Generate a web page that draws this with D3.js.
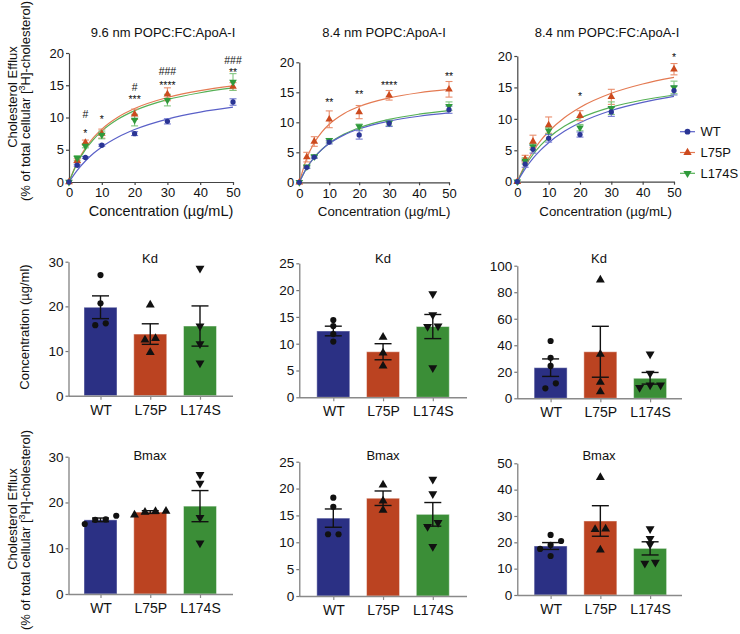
<!DOCTYPE html>
<html><head><meta charset="utf-8">
<script src="https://cdn.jsdelivr.net/npm/d3@7"></script>
<style>
body{margin:0;background:#fff}
svg text{font-family:"Liberation Sans",Arial,sans-serif;fill:#111}
</style>
</head><body>
<svg id="c" width="740" height="634"></svg>
<script>
// ---------------- DATA ----------------
const groups = ["WT", "L75P", "L174S"];
const conc = [0, 2.5, 5, 10, 20, 30, 50];
const concTicks = [0, 10, 20, 30, 40, 50];
const effluxTicks = [0, 5, 10, 15, 20];
const fitConc = [0, 2.5, 5, 7.5, 10, 15, 20, 30, 40, 50];

const curveTitles = ["9.6 nm POPC:FC:ApoA-I", "8.4 nm POPC:ApoA-I", "8.4 nm POPC:FC:ApoA-I"];

// Panel A: 9.6 nm POPC:FC:ApoA-I
const effA_WT    = [0, 2.6, 3.8, 5.7, 7.5, 9.4, 12.4];
const effA_L75P  = [0, 3.3, 6.1, 7.5, 10.5, 13.6, 14.8];
const effA_L174S = [0, 3.7, 5.6, 7.3, 9.6, 12.7, 15.5];
const semA_WT    = [0, 0.15, 0.15, 0.15, 0.3, 0.4, 0.5];
const semA_L75P  = [0, 0.3, 0.4, 0.7, 0.8, 1.0, 0.6];
const semA_L174S = [0, 0.4, 0.3, 0.6, 0.9, 0.9, 1.3];
const fitA_WT    = [0, 1.82, 3.26, 4.45, 5.44, 6.98, 8.14, 9.76, 10.84, 11.6];
const fitA_L75P  = [0, 3.06, 5.25, 6.91, 8.2, 10.09, 11.4, 13.1, 14.17, 14.9];
const fitA_L174S = [0, 2.9, 5.01, 6.62, 7.89, 9.75, 11.06, 12.77, 13.84, 14.58];
const sigA_conc  = [5, 5, 10, 20, 20, 30, 30, 50, 50];
const sigA_level = [7.0, 9.85, 9.15, 12.2, 14.1, 14.4, 16.6, 16.4, 18.25];
const sigA_text  = ["*", "#", "*", "***", "#", "****", "###", "**", "###"];

// Panel B: 8.4 nm POPC:ApoA-I
const effB_WT    = [0, 2.5, 4.2, 6.7, 7.9, 9.8, 12.1];
const effB_L75P  = [0, 4.2, 6.8, 10.5, 11.7, 14.5, 15.5];
const effB_L174S = [0, 2.6, 4.3, 7.0, 9.3, 9.9, 12.7];
const semB_WT    = [0, 0.2, 0.2, 0.3, 0.7, 0.5, 0.6];
const semB_L75P  = [0, 0.8, 0.8, 1.4, 1.1, 0.8, 1.3];
const semB_L174S = [0, 0.2, 0.2, 0.3, 0.4, 0.5, 0.7];
const fitB_WT    = [0, 2.43, 4.16, 5.45, 6.46, 7.91, 8.92, 10.21, 11.01, 11.56];
const fitB_L75P  = [0, 4.03, 6.59, 8.37, 9.68, 11.47, 12.64, 14.07, 14.92, 15.48];
const fitB_L174S = [0, 2.40, 4.15, 5.47, 6.51, 8.03, 9.10, 10.49, 11.35, 11.95];
const sigB_conc  = [10, 20, 30, 50];
const sigB_level = [12.7, 14.1, 15.5, 17.0];
const sigB_text  = ["**", "**", "****", "**"];

// Panel C: 8.4 nm POPC:FC:ApoA-I
const effC_WT    = [0, 2.8, 5.15, 6.9, 7.5, 11.1, 14.5];
const effC_L75P  = [0, 3.6, 6.4, 9.0, 10.5, 13.5, 17.9];
const effC_L174S = [0, 3.3, 5.6, 8.1, 8.6, 11.7, 15.0];
const semC_WT    = [0, 0.5, 0.6, 0.6, 0.4, 0.7, 0.7];
const semC_L75P  = [0, 0.6, 1.0, 1.3, 0.8, 1.2, 0.9];
const semC_L174S = [0, 0.5, 0.5, 0.5, 0.5, 1.0, 1.0];
const fitC_WT    = [0, 2.04, 3.70, 5.06, 6.21, 8.02, 9.39, 11.33, 12.63, 13.57];
const fitC_L75P  = [0, 2.72, 4.85, 6.57, 7.99, 10.19, 11.82, 14.07, 15.55, 16.59];
const fitC_L174S = [0, 2.46, 4.33, 5.81, 7.0, 8.81, 10.11, 11.87, 13.0, 13.79];
const sigC_conc  = [20, 50];
const sigC_level = [13.0, 19.2];
const sigC_text  = ["*", "*"];

// Kd bar panels (means, SEM, individual points)
const kdA_mean = [19.8, 13.8, 15.6];
const kdA_sem  = [2.55, 2.3, 4.5];
const kdA_WT = [27.0, 20.7, 15.8, 16.2];
const kdA_L75P = [20.3, 12.8, 12.5, 9.7];
const kdA_L174S = [28.5, 15.6, 11.6, 7.3];

const kdB_mean = [12.37, 8.5, 13.2];
const kdB_sem  = [0.9, 1.5, 2.25];
const kdB_WT = [14.4, 13.3, 11.8, 10.4];
const kdB_L75P = [11.2, 8.3, 5.85];
const kdB_L174S = [19.3, 15.4, 13.3, 13.2, 5.5];

const kdC_mean = [23.1, 35.1, 15.1];
const kdC_sem  = [6.6, 19.2, 4.4];
const kdC_WT = [43.2, 30.6, 24.4, 11.3, 7.5];
const kdC_L75P = [89.2, 33.2, 12.1, 5.0];
const kdC_L174S = [33.4, 18.9, 10.0, 10.0, 8.0];

// Bmax bar panels
const bmA_mean = [16.2, 17.9, 19.2];
const bmA_sem  = [0.4, 0.3, 3.4];
const bmA_WT = [17.1, 15.3, 16.3, 16.2];
const bmA_L75P = [17.3, 18.1, 17.9, 18.05];
const bmA_L174S = [26.1, 24.2, 16.7, 11.1];

const bmB_mean = [14.5, 18.2, 15.2];
const bmB_sem  = [1.7, 1.35, 2.2];
const bmB_WT = [18.3, 16.6, 11.5, 11.5];
const bmB_L75P = [20.7, 17.7, 16.0];
const bmB_L174S = [21.7, 19.0, 13.65, 12.9, 9.2];

const bmC_mean = [18.6, 28.1, 17.7];
const bmC_sem  = [1.3, 5.8, 2.5];
const bmC_WT = [22.8, 20.5, 19.0, 17.5, 14.8];
const bmC_L75P = [44.6, 25.1, 24.9, 17.1];
const bmC_L174S = [25.1, 21.4, 19.2, 12.0, 12.4];

const kdTicksA = [0, 10, 20, 30], kdTicksB = [0, 5, 10, 15, 20, 25], kdTicksC = [0, 20, 40, 60, 80, 100];
const bmTicksA = [0, 10, 20, 30], bmTicksB = [0, 5, 10, 15, 20, 25], bmTicksC = [0, 10, 20, 30, 40, 50];

// ---------------- STYLE ----------------
const markerFill = {WT: "#2a3594", L75P: "#cc4a1e", L174S: "#2f9a3b"};
const lineCol    = {WT: "#5a60c8", L75P: "#e47a52", L174S: "#55b055"};
const errCol     = {WT: "#7077cf", L75P: "#e98d6c", L174S: "#80c680"};
const barFill    = {WT: "#2b3084", L75P: "#bb4321", L174S: "#3b8e37"};
const FONT = '"Liberation Sans", Arial, sans-serif';

const svg = d3.select("#c");

function symFor(g, size) {
  if (g === "WT") return d3.symbol().type(d3.symbolCircle).size(size)();
  return d3.symbol().type(d3.symbolTriangle).size(size * 1.15)();
}
function symTransform(g, x, y) {
  return g === "L174S" ? `translate(${x},${y}) rotate(180)` : `translate(${x},${y})`;
}
function styleAxis(sel, fs, col) {
  sel.attr("font-family", FONT).attr("font-size", fs);
  sel.selectAll("path,line").attr("stroke", col).attr("stroke-width", 1.2);
  sel.selectAll("text").attr("fill", "#111");
}

// ---------------- CURVE PANELS ----------------
function curvePanel(cfg) {
  const x = d3.scaleLinear().domain([0, 50]).range([cfg.left, cfg.right]);
  const y = d3.scaleLinear().domain([0, 20]).range([cfg.bottom, cfg.top]);
  const g = svg.append("g");
  g.append("g").attr("transform", `translate(0,${cfg.bottom})`)
    .call(d3.axisBottom(x).tickValues(concTicks).tickSize(3).tickSizeOuter(0).tickPadding(3))
    .call(s => styleAxis(s, 13, "#444"));
  g.append("g").attr("transform", `translate(${cfg.left},0)`)
    .call(d3.axisLeft(y).tickValues(effluxTicks).tickSize(3).tickSizeOuter(0).tickPadding(2))
    .call(s => styleAxis(s, 13, "#444"));

  const line = d3.line().x(d => x(d[0])).y(d => y(d[1])).curve(d3.curveMonotoneX);
  const order = ["L75P", "L174S", "WT"];
  order.forEach(k => {
    g.append("path").datum(fitConc.map((c, i) => [c, cfg.fit[k][i]]))
      .attr("d", line).attr("fill", "none").attr("stroke", lineCol[k]).attr("stroke-width", 1.2);
  });
  order.forEach(k => {
    const vals = cfg.eff[k], sem = cfg.sem[k];
    conc.forEach((c, i) => {
      if (sem[i] <= 0) return;
      const cx = x(c), yt = y(vals[i] + sem[i]), yb = y(vals[i] - sem[i]);
      g.append("line").attr("x1", cx).attr("x2", cx).attr("y1", yt).attr("y2", yb)
        .attr("stroke", errCol[k]).attr("stroke-width", 1.1);
      [yt, yb].forEach(yy => g.append("line").attr("x1", cx - 3.5).attr("x2", cx + 3.5)
        .attr("y1", yy).attr("y2", yy).attr("stroke", errCol[k]).attr("stroke-width", 1.1));
    });
  });
  order.forEach(k => {
    conc.forEach((c, i) => {
      g.append("path").attr("d", symFor(k, 22))
        .attr("transform", symTransform(k, x(c), y(cfg.eff[k][i])))
        .attr("fill", markerFill[k]);
    });
  });
  cfg.sigConc.forEach((c, i) => {
    g.append("text").attr("x", x(c)).attr("y", y(cfg.sigLevel[i]))
      .attr("text-anchor", "middle").attr("font-size", 10.5).text(cfg.sigText[i]);
  });
  g.append("text").attr("x", cfg.titleX).attr("y", 37.3).attr("text-anchor", "middle")
    .attr("font-size", 13).text(cfg.title);
  g.append("text").attr("x", (cfg.left + cfg.right) / 2 + 10).attr("y", 215.5).attr("text-anchor", "middle")
    .attr("font-size", cfg.xtSize).text("Concentration (\u00b5g/mL)");
}

curvePanel({left: 69, right: 233, top: 53, bottom: 182, titleX: 163, xtSize: 14.5, title: curveTitles[0],
  eff: {WT: effA_WT, L75P: effA_L75P, L174S: effA_L174S},
  sem: {WT: semA_WT, L75P: semA_L75P, L174S: semA_L174S},
  fit: {WT: fitA_WT, L75P: fitA_L75P, L174S: fitA_L174S},
  sigConc: sigA_conc, sigLevel: sigA_level, sigText: sigA_text});
curvePanel({left: 299.3, right: 449, top: 62.3, bottom: 182.3, titleX: 384, xtSize: 13.3, title: curveTitles[1],
  eff: {WT: effB_WT, L75P: effB_L75P, L174S: effB_L174S},
  sem: {WT: semB_WT, L75P: semB_L75P, L174S: semB_L174S},
  fit: {WT: fitB_WT, L75P: fitB_L75P, L174S: fitB_L174S},
  sigConc: sigB_conc, sigLevel: sigB_level, sigText: sigB_text});
curvePanel({left: 517.3, right: 674, top: 56, bottom: 181.7, titleX: 607, xtSize: 13.3, title: curveTitles[2],
  eff: {WT: effC_WT, L75P: effC_L75P, L174S: effC_L174S},
  sem: {WT: semC_WT, L75P: semC_L75P, L174S: semC_L174S},
  fit: {WT: fitC_WT, L75P: fitC_L75P, L174S: fitC_L174S},
  sigConc: sigC_conc, sigLevel: sigC_level, sigText: sigC_text});

// Legend
const leg = svg.append("g");
groups.forEach((k, i) => {
  const ly = 131.7 + i * 20.8;
  leg.append("line").attr("x1", 680).attr("x2", 695).attr("y1", ly).attr("y2", ly)
    .attr("stroke", lineCol[k]).attr("stroke-width", 1.2);
  leg.append("path").attr("d", symFor(k, 26)).attr("transform", symTransform(k, 687.5, ly)).attr("fill", markerFill[k]);
  leg.append("text").attr("x", 700.5).attr("y", ly + 4.7).attr("font-size", 13).text(k);
});

// ---------------- BAR PANELS ----------------
function dodge(vals, y, thr, step) {
  const idx = vals.map((v, i) => i).sort((a, b) => vals[a] - vals[b]);
  const off = new Array(vals.length).fill(0);
  let cl = [idx[0]];
  const flush = () => { const n = cl.length; cl.forEach((k, j) => off[k] = (j - (n - 1) / 2) * step); };
  for (let j = 1; j < idx.length; j++) {
    if (Math.abs(y(vals[idx[j]]) - y(vals[idx[j - 1]])) < thr) cl.push(idx[j]);
    else { flush(); cl = [idx[j]]; }
  }
  flush();
  return off;
}

function barPanel(cfg) {
  const y = d3.scaleLinear().domain([0, cfg.max]).range([cfg.bottom, cfg.top]);
  const x = d3.scalePoint().domain(groups).range([cfg.left + cfg.inset, cfg.left + cfg.inset + 99.5]);
  const g = svg.append("g");
  const bw = 33;
  groups.forEach((k, i) => {
    g.append("rect").attr("x", x(k) - bw / 2).attr("width", bw)
      .attr("y", y(cfg.mean[i])).attr("height", y(0) - y(cfg.mean[i]))
      .attr("fill", barFill[k]).attr("stroke", "rgba(255,255,255,0.45)").attr("stroke-width", 1);
  });
  g.append("g").attr("transform", `translate(0,${cfg.bottom})`)
    .call(d3.axisBottom(x).tickSize(4).tickSizeOuter(0).tickPadding(5).tickFormat(d => d))
    .call(s => { styleAxis(s, 14, "#8a8a8a"); s.select(".domain").attr("d", `M${cfg.left},0.5H${cfg.right}`).attr("stroke-width", 1.6); });
  g.append("g").attr("transform", `translate(${cfg.left},0)`)
    .call(d3.axisLeft(y).tickValues(cfg.ticks).tickSize(3).tickSizeOuter(0).tickPadding(2))
    .call(s => styleAxis(s, 13.5, "#777"));
  groups.forEach((k, i) => {
    const cx = x(k), yt = y(cfg.mean[i] + cfg.sem[i]), yb = y(cfg.mean[i] - cfg.sem[i]);
    g.append("line").attr("x1", cx).attr("x2", cx).attr("y1", yt).attr("y2", yb).attr("stroke", "#111").attr("stroke-width", 1.4);
    [yt, yb].forEach(yy => g.append("line").attr("x1", cx - 8.5).attr("x2", cx + 8.5).attr("y1", yy).attr("y2", yy)
      .attr("stroke", "#111").attr("stroke-width", 1.4));
    const vals = cfg.pts[k];
    const off = dodge(vals, y, 5.2, 10.5);
    vals.forEach((v, j) => {
      g.append("path").attr("d", symFor(k, 30)).attr("transform", symTransform(k, cx + off[j], y(v))).attr("fill", "#111");
    });
  });
  g.append("text").attr("x", cfg.titleX).attr("y", cfg.titleY).attr("text-anchor", "middle").attr("font-size", 13).text(cfg.title);
}

const cols = [
  {left: 68.5, right: 233, inset: 32, titleX: 150},
  {left: 299.3, right: 467, inset: 34, titleX: 383},
  {left: 517.3, right: 682, inset: 33.3, titleX: 599}
];
const kdRows = [
  {bottom: 395.7, top: 261.7, max: 30, ticks: kdTicksA, mean: kdA_mean, sem: kdA_sem, pts: {WT: kdA_WT, L75P: kdA_L75P, L174S: kdA_L174S}},
  {bottom: 397.3, top: 263.3, max: 25, ticks: kdTicksB, mean: kdB_mean, sem: kdB_sem, pts: {WT: kdB_WT, L75P: kdB_L75P, L174S: kdB_L174S}},
  {bottom: 398.3, top: 265.7, max: 100, ticks: kdTicksC, mean: kdC_mean, sem: kdC_sem, pts: {WT: kdC_WT, L75P: kdC_L75P, L174S: kdC_L174S}}
];
const bmRows = [
  {bottom: 594, top: 456.7, max: 30, ticks: bmTicksA, mean: bmA_mean, sem: bmA_sem, pts: {WT: bmA_WT, L75P: bmA_L75P, L174S: bmA_L174S}},
  {bottom: 596, top: 461.7, max: 25, ticks: bmTicksB, mean: bmB_mean, sem: bmB_sem, pts: {WT: bmB_WT, L75P: bmB_L75P, L174S: bmB_L174S}},
  {bottom: 595, top: 463.3, max: 50, ticks: bmTicksC, mean: bmC_mean, sem: bmC_sem, pts: {WT: bmC_WT, L75P: bmC_L75P, L174S: bmC_L174S}}
];
kdRows.forEach((r, i) => barPanel(Object.assign({}, cols[i], r, {title: "Kd", titleY: 262.7})));
bmRows.forEach((r, i) => barPanel(Object.assign({}, cols[i], r, {title: "Bmax", titleY: 459.7})));

// ---------------- Y AXIS TITLES ----------------
function yTitle2(cx1, cy1, cx2, cy2) {
  svg.append("text").attr("transform", `translate(${cx1},${cy1}) rotate(-90)`).attr("text-anchor", "middle")
    .attr("font-size", 13).text("Cholesterol Efflux");
  const t = svg.append("text").attr("transform", `translate(${cx2},${cy2}) rotate(-90)`).attr("text-anchor", "middle")
    .attr("font-size", 13);
  t.append("tspan").text("(% of total cellular [");
  t.append("tspan").attr("font-size", 9).attr("dy", -5).text("3");
  t.append("tspan").attr("dy", 5).text("H]-cholesterol)");
}
yTitle2(17, 97, 29.5, 101);
yTitle2(17, 519, 29.5, 530);
svg.append("text").attr("transform", "translate(28.5,327) rotate(-90)").attr("text-anchor", "middle")
  .attr("font-size", 13).text("Concentration (\u00b5g/ml)");
</script>
</body></html>
